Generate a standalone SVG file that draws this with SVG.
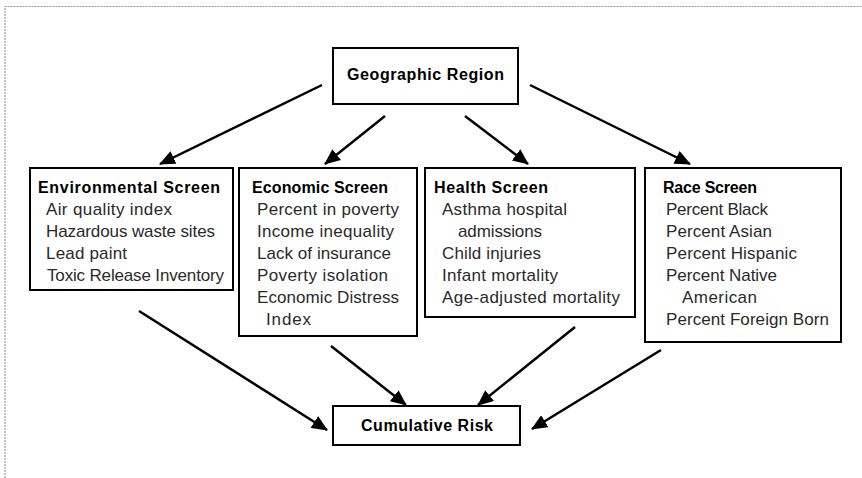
<svg xmlns="http://www.w3.org/2000/svg" width="862" height="478" viewBox="0 0 862 478">
<defs>
<style>
.box{fill:#fff;stroke:#000;stroke-width:2}
.t{font-family:"Liberation Sans",Arial,sans-serif;font-size:16px;font-weight:bold;fill:#000}
.b{font-family:"Liberation Sans",Arial,sans-serif;font-size:17px;fill:#2a2a2a}
.c{stroke:#000;stroke-width:2.5;fill:none;marker-end:url(#ah)}
.frame{stroke:#999;stroke-width:1.2;stroke-dasharray:2 1;fill:none}
</style>
<marker id="ah" viewBox="0 0 16 14" refX="15" refY="7" markerWidth="16" markerHeight="14" markerUnits="userSpaceOnUse" orient="auto">
<path d="M0,0 L16,7 L0,14 Z" fill="#000"/>
</marker>
</defs>
<rect width="862" height="478" fill="#fff"/>
<path class="frame" d="M5,478 V6.5 H862"/>

<g id="connectors">
<line class="c" x1="322" y1="85" x2="160" y2="164"/>
<line class="c" x1="385" y1="116" x2="325" y2="164"/>
<line class="c" x1="465" y1="116" x2="528" y2="164"/>
<line class="c" x1="530" y1="85" x2="690" y2="164"/>
<line class="c" x1="139" y1="311" x2="327" y2="430"/>
<line class="c" x1="331" y1="346" x2="406" y2="405"/>
<line class="c" x1="575" y1="327" x2="478" y2="405"/>
<line class="c" x1="661" y1="350" x2="532" y2="429"/>
</g>

<g id="geographic-region">
<rect class="box" x="333" y="48" width="185" height="56"/>
<text class="t" x="347" y="80" textLength="157">Geographic Region</text>
</g>

<g id="environmental-screen">
<rect class="box" x="30" y="168" width="203" height="122"/>
<text class="t" x="38" y="193" textLength="182">Environmental Screen</text>
<text class="b" x="46" y="215" textLength="126">Air quality index</text>
<text class="b" x="46" y="237" textLength="169">Hazardous waste sites</text>
<text class="b" x="46" y="259" textLength="81">Lead paint</text>
<text class="b" x="47" y="281" textLength="177">Toxic Release Inventory</text>
</g>

<g id="economic-screen">
<rect class="box" x="239" y="168" width="178" height="168"/>
<text class="t" x="252" y="193" textLength="136">Economic Screen</text>
<text class="b" x="257" y="215" textLength="142">Percent in poverty</text>
<text class="b" x="257" y="237" textLength="137">Income inequality</text>
<text class="b" x="257" y="259" textLength="134">Lack of insurance</text>
<text class="b" x="257" y="281" textLength="131">Poverty isolation</text>
<text class="b" x="257" y="303" textLength="142">Economic Distress</text>
<text class="b" x="266" y="325" textLength="45">Index</text>
</g>

<g id="health-screen">
<rect class="box" x="425" y="168" width="210" height="149"/>
<text class="t" x="434" y="193" textLength="114">Health Screen</text>
<text class="b" x="442" y="215" textLength="125">Asthma hospital</text>
<text class="b" x="458" y="237" textLength="84">admissions</text>
<text class="b" x="442" y="259" textLength="99">Child injuries</text>
<text class="b" x="442" y="281" textLength="116">Infant mortality</text>
<text class="b" x="442" y="303" textLength="178">Age-adjusted mortality</text>
</g>

<g id="race-screen">
<rect class="box" x="645" y="168" width="196" height="174"/>
<text class="t" x="663" y="193" textLength="94">Race Screen</text>
<text class="b" x="666" y="215" textLength="102">Percent Black</text>
<text class="b" x="666" y="237" textLength="106">Percent Asian</text>
<text class="b" x="666" y="259" textLength="131">Percent Hispanic</text>
<text class="b" x="666" y="281" textLength="111">Percent Native</text>
<text class="b" x="682" y="303" textLength="75">American</text>
<text class="b" x="666" y="325" textLength="163">Percent Foreign Born</text>
</g>

<g id="cumulative-risk">
<rect class="box" x="333" y="406" width="187" height="39"/>
<text class="t" x="361" y="431" textLength="132">Cumulative Risk</text>
</g>
</svg>
